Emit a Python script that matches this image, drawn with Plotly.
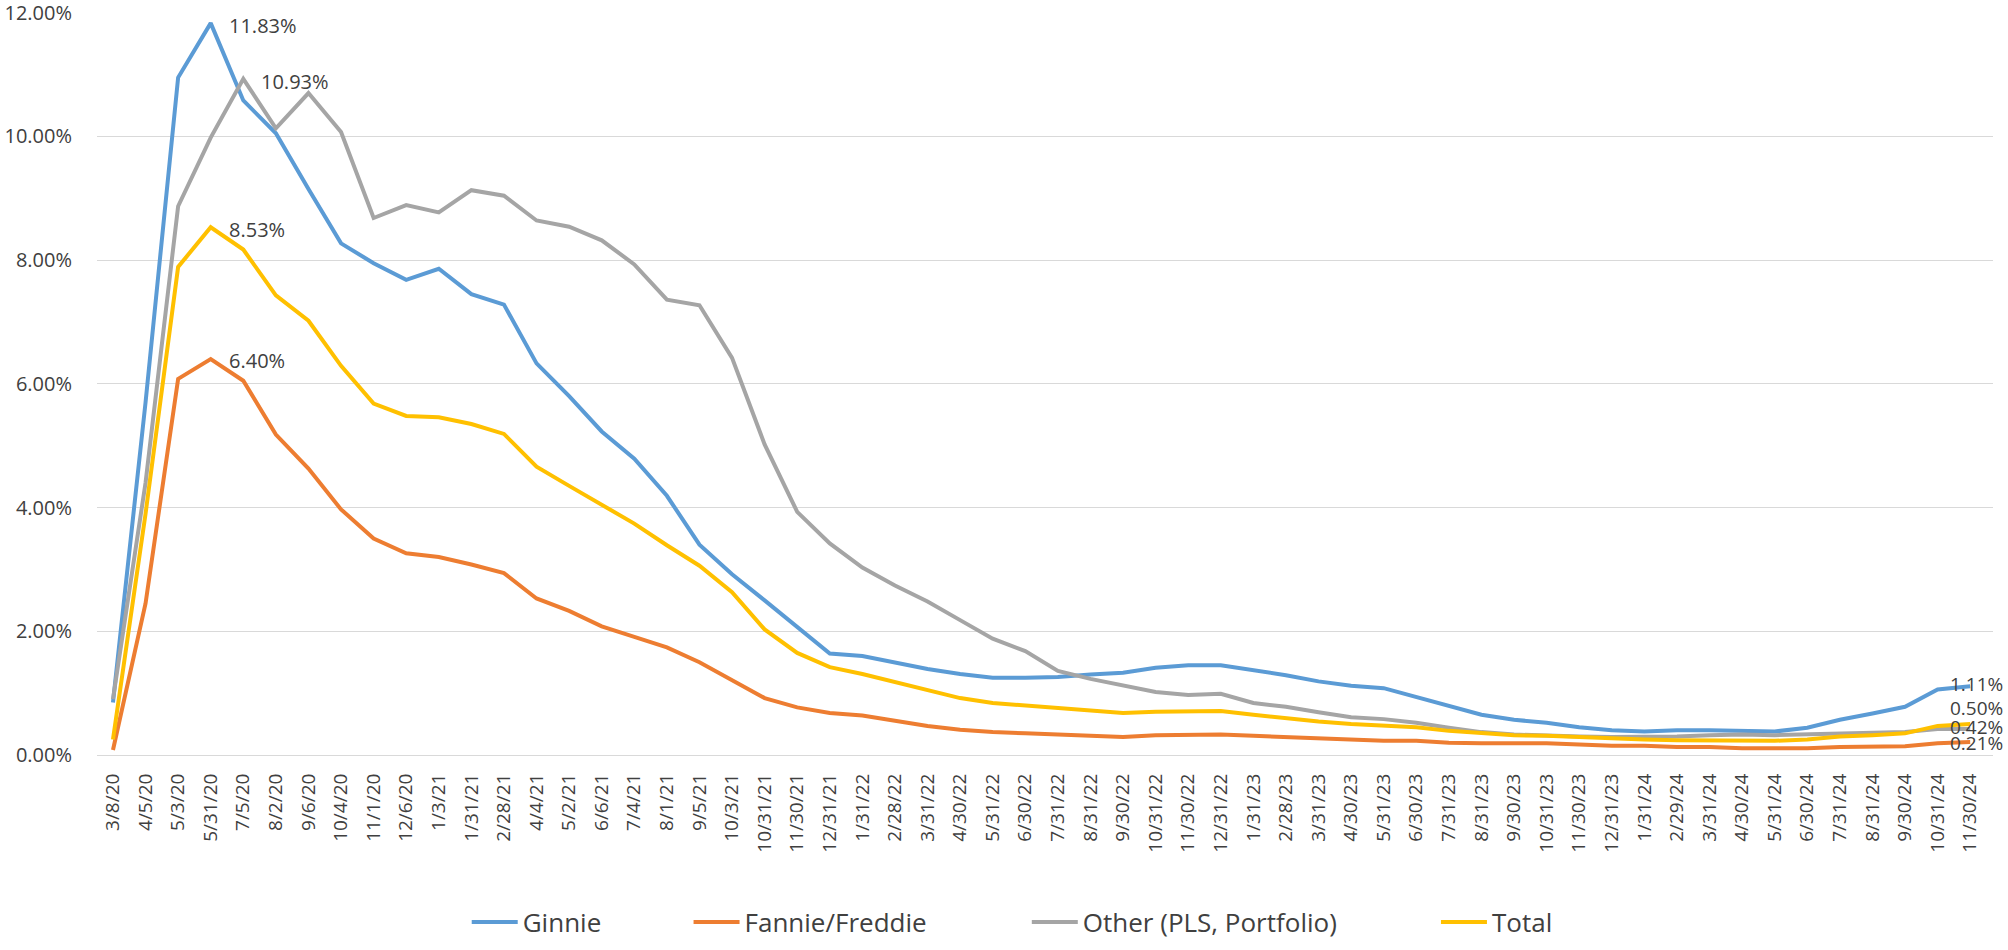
import plotly.graph_objects as go

# Month-end observation dates
dates = ["3/8/20", "4/5/20", "5/3/20", "5/31/20", "7/5/20", "8/2/20", "9/6/20", "10/4/20",
         "11/1/20", "12/6/20", "1/3/21", "1/31/21", "2/28/21", "4/4/21", "5/2/21", "6/6/21",
         "7/4/21", "8/1/21", "9/5/21", "10/3/21", "10/31/21", "11/30/21", "12/31/21",
         "1/31/22", "2/28/22", "3/31/22", "4/30/22", "5/31/22", "6/30/22", "7/31/22",
         "8/31/22", "9/30/22", "10/31/22", "11/30/22", "12/31/22", "1/31/23", "2/28/23",
         "3/31/23", "4/30/23", "5/31/23", "6/30/23", "7/31/23", "8/31/23", "9/30/23",
         "10/31/23", "11/30/23", "12/31/23", "1/31/24", "2/29/24", "3/31/24", "4/30/24",
         "5/31/24", "6/30/24", "7/31/24", "8/31/24", "9/30/24", "10/31/24", "11/30/24"]

# Forbearance rates, percent of loans
ginnie = [0.85, 5.70, 10.95, 11.83, 10.58, 10.05, 9.15, 8.27, 7.95, 7.68, 7.86, 7.45, 7.28,
          6.33, 5.80, 5.23, 4.79, 4.19, 3.40, 2.92, 2.50, 2.07, 1.64, 1.60, 1.50, 1.39,
          1.31, 1.25, 1.25, 1.26, 1.30, 1.33, 1.41, 1.45, 1.45, 1.37, 1.29, 1.19, 1.12,
          1.08, 0.94, 0.80, 0.65, 0.57, 0.52, 0.45, 0.40, 0.38, 0.40, 0.40, 0.39, 0.38,
          0.44, 0.57, 0.67, 0.78, 1.06, 1.11]
fannie_freddie = [0.08, 2.45, 6.08, 6.40, 6.05, 5.18, 4.63, 3.97, 3.50, 3.26, 3.20, 3.08,
                  2.94, 2.53, 2.33, 2.08, 1.91, 1.74, 1.50, 1.21, 0.92, 0.77, 0.68, 0.64,
                  0.55, 0.47, 0.41, 0.37, 0.35, 0.33, 0.31, 0.29, 0.32, 0.33, 0.33, 0.31,
                  0.29, 0.26, 0.24, 0.23, 0.23, 0.20, 0.19, 0.19, 0.19, 0.17, 0.15, 0.15,
                  0.13, 0.13, 0.11, 0.11, 0.11, 0.13, 0.14, 0.14, 0.19, 0.21]
other = [0.90, 4.40, 8.87, 9.98, 10.93, 10.13, 10.70, 10.07, 8.68, 8.89, 8.77, 9.13, 9.04,
         8.64, 8.54, 8.32, 7.93, 7.36, 7.27, 6.42, 5.02, 3.93, 3.42, 3.03, 2.74, 2.48,
         2.18, 1.88, 1.68, 1.36, 1.23, 1.13, 1.02, 0.97, 0.99, 0.84, 0.78, 0.69, 0.61,
         0.58, 0.52, 0.44, 0.37, 0.33, 0.31, 0.30, 0.29, 0.29, 0.30, 0.32, 0.33, 0.32,
         0.33, 0.34, 0.36, 0.37, 0.42, 0.42]
total = [0.25, 3.90, 7.89, 8.53, 8.17, 7.43, 7.02, 6.29, 5.68, 5.48, 5.46, 5.35, 5.19,
         4.66, 4.35, 4.04, 3.74, 3.39, 3.06, 2.63, 2.03, 1.65, 1.42, 1.31, 1.18, 1.05,
         0.92, 0.84, 0.80, 0.75, 0.72, 0.68, 0.70, 0.71, 0.71, 0.65, 0.59, 0.54, 0.50,
         0.48, 0.45, 0.39, 0.35, 0.32, 0.31, 0.29, 0.26, 0.25, 0.24, 0.24, 0.23, 0.23,
         0.25, 0.30, 0.32, 0.35, 0.47, 0.50]

# Y axis ticks, percent
y_ticks = [0, 2, 4, 6, 8, 10, 12]
y_tick_text = [f"{v:.2f}%" for v in y_ticks]

series_names = ["Ginnie", "Fannie/Freddie", "Other (PLS, Portfolio)", "Total"]
series_values = [ginnie, fannie_freddie, other, total]
colors = ["#5B9BD5", "#ED7D31", "#A5A5A5", "#FFC000"]
legend_ids = ["legend", "legend2", "legend3", "legend4"]
legend_x = [0.195, 0.312, 0.4904, 0.7062]

FONT = "Open Sans, Liberation Sans, sans-serif"
TEXT_COLOR = "#404040"

fig = go.Figure()
for name, vals, col, lg in zip(series_names, series_values, colors, legend_ids):
    fig.add_trace(go.Scatter(
        x=dates, y=vals, name=name, mode="lines",
        line=dict(color=col, width=4), legend=lg,
    ))

# Value labels: peaks of each series, and latest values at the right edge
peak_labels = [
    (ginnie, 16, -2),
    (other, 16, -3),
    (total, 16, -2),
    (fannie_freddie, 16, -1),
]
annotations = []
for vals, xs, ys in peak_labels:
    i = max(range(len(vals)), key=lambda k: vals[k])
    annotations.append(dict(
        x=dates[i], y=vals[i], xref="x", yref="y", text=f"{vals[i]:.2f}%",
        showarrow=False, xanchor="left", yanchor="middle", xshift=xs, yshift=ys,
        font=dict(family=FONT, size=20, color=TEXT_COLOR),
    ))

end_labels = [(ginnie, 2), (total, 16), (other, 2), (fannie_freddie, -1)]
for vals, ys in end_labels:
    annotations.append(dict(
        x=dates[-1], y=vals[-1], xref="x", yref="y", text=f"{vals[-1]:.2f}%",
        showarrow=False, xanchor="left", yanchor="middle", xshift=-22, yshift=ys,
        font=dict(family=FONT, size=19, color=TEXT_COLOR),
    ))

layout_legends = {}
for lg, lx in zip(legend_ids, legend_x):
    layout_legends[lg] = dict(
        x=lx, y=-0.225, xref="paper", yref="paper", xanchor="left", yanchor="middle",
        orientation="h", font=dict(family=FONT, size=26, color=TEXT_COLOR),
        bgcolor="rgba(0,0,0,0)", itemwidth=46,
    )

fig.update_layout(
    width=2008, height=950,
    margin=dict(l=97, r=15, t=12, b=195, autoexpand=False),
    paper_bgcolor="white", plot_bgcolor="white",
    showlegend=True,
    annotations=annotations,
    **layout_legends,
)
fig.update_xaxes(
    type="category", range=[-0.49, 57.7], automargin=False,
    tickmode="array", tickvals=dates, ticktext=dates, tickangle=-90,
    tickfont=dict(family=FONT, size=19, color=TEXT_COLOR),
    showgrid=False, showline=True, linecolor="#D9D9D9", linewidth=1,
    ticks="", ticklabelstandoff=10,
)
fig.update_yaxes(
    range=[0, 12.01], automargin=False,
    tickmode="array", tickvals=y_ticks, ticktext=y_tick_text,
    tickfont=dict(family=FONT, size=20, color=TEXT_COLOR),
    showgrid=True, gridcolor="#D9D9D9", gridwidth=1, zeroline=False,
    showline=False, ticks="", ticklabelstandoff=24, ticklabeloverflow="allow",
)

fig.write_html("out.html")
